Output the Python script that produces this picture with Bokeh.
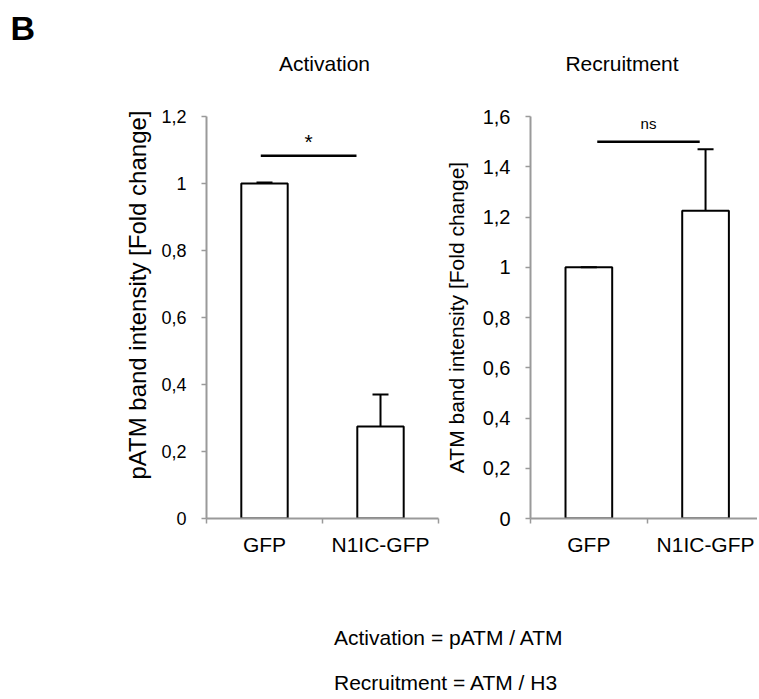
import numpy as np
from bokeh.plotting import figure
from bokeh.models import (ColumnDataSource, Range1d, FixedTicker, CustomJSTickFormatter,
                          Whisker, TeeHead, Label, Title)
from bokeh.layouts import column, row
from bokeh.embed import file_html
from bokeh.resources import INLINE

# ---------------- data ----------------
categories = ["GFP", "N1IC-GFP"]

activation_mean = [1.0, 0.275]
activation_err = [0.003, 0.095]
activation_ticks = [0, 0.2, 0.4, 0.6, 0.8, 1.0, 1.2]

recruitment_mean = [1.0, 1.225]
recruitment_err = [0.0, 0.245]
recruitment_ticks = [0, 0.2, 0.4, 0.6, 0.8, 1.0, 1.2, 1.4, 1.6]

# significance brackets (x in category units, y in value units)
activation_sig_x = [0.468, 1.293]
activation_sig_y = 1.083
activation_sig_text = "*"
recruitment_sig_x = [0.572, 1.45]
recruitment_sig_y = 1.50
recruitment_sig_text = "ns"

FONT = "Liberation Sans"
AXIS_GRAY = "#9a9a9a"
TOTAL_W = 757
HEADER_H = 90
ROW_H = 490

TICK_FMT = """
const v = Math.round(tick * 10) / 10;
if (Math.abs(v - Math.round(v)) < 1e-9) { return v.toFixed(0); }
return v.toFixed(1).replace('.', ',');
"""


def text_panel(width, height):
    """A figure without axes whose frame is the whole canvas, for free text."""
    p = figure(width=width, height=height, x_range=Range1d(0, width),
               y_range=Range1d(height, 0), x_axis_type=None, y_axis_type=None,
               min_border=0, output_backend="svg", toolbar_location=None, tools="")
    p.xgrid.visible = False
    p.ygrid.visible = False
    p.outline_line_color = None
    return p


def add_text(p, x, y, text, size, align="left", style="normal"):
    p.add_layout(Label(x=x, y=y, text=text, text_align=align,
                       text_baseline="alphabetic", text_font=FONT,
                       text_font_style=style, text_font_size=size,
                       text_color="black"))


def bar_panel(border_left, border_right, frame_width, x_end, means, errs, ticks,
              tick_font, sig_x, sig_y, sig_text, sig_size, sig_text_y):
    p = figure(frame_width=frame_width, frame_height=402,
               min_border_left=border_left, min_border_right=border_right,
               min_border_top=116 - HEADER_H, min_border_bottom=ROW_H - 402 - (116 - HEADER_H),
               x_range=Range1d(0, x_end), y_range=Range1d(0, ticks[-1]),
               output_backend="svg", toolbar_location=None, tools="")
    p.xgrid.visible = False
    p.ygrid.visible = False
    p.outline_line_color = None

    xs = [i + 0.5 for i in range(len(categories))]
    src = ColumnDataSource(dict(x=xs, top=means,
                                upper=[m + e for m, e in zip(means, errs)]))
    p.vbar(x="x", top="top", bottom=0, width=0.4, source=src,
           fill_color="white", line_color="black", line_width=2)
    w = Whisker(base="x", lower="top", upper="upper", source=src,
                dimension="height", line_color="black", line_width=2,
                upper_head=TeeHead(size=16, line_color="black", line_width=2),
                lower_head=None, level="overlay")
    p.add_layout(w)

    p.segment(x0=[sig_x[0]], y0=[sig_y], x1=[sig_x[1]], y1=[sig_y],
              line_color="black", line_width=2.5)
    p.add_layout(Label(x=(sig_x[0] + sig_x[1]) / 2, y=sig_text_y, text=sig_text,
                       text_align="center", text_baseline="alphabetic",
                       text_font=FONT, text_font_size=sig_size, text_color="black"))

    # x axis: labels at category centres, ticks at category boundaries
    xa = p.xaxis[0]
    xa.ticker = FixedTicker(ticks=xs, minor_ticks=list(range(len(categories) + 1)))
    xa.major_label_overrides = {x: c for x, c in zip(xs, categories)}
    xa.major_tick_out = 0
    xa.major_tick_in = 0
    xa.major_tick_line_color = None
    xa.minor_tick_out = 5
    xa.minor_tick_in = 0
    xa.minor_tick_line_color = AXIS_GRAY
    xa.minor_tick_line_width = 1.5
    xa.axis_line_color = AXIS_GRAY
    xa.axis_line_width = 2
    xa.major_label_text_font = FONT
    xa.major_label_text_font_size = "21px"
    xa.major_label_text_color = "black"
    xa.major_label_standoff = 9

    ya = p.yaxis[0]
    ya.ticker = FixedTicker(ticks=ticks)
    ya.formatter = CustomJSTickFormatter(code=TICK_FMT)
    ya.major_tick_out = 5
    ya.major_tick_in = 0
    ya.major_tick_line_color = AXIS_GRAY
    ya.major_tick_line_width = 1.5
    ya.minor_tick_line_color = None
    ya.axis_line_color = AXIS_GRAY
    ya.axis_line_width = 2
    ya.major_label_text_font = FONT
    ya.major_label_text_font_size = tick_font
    ya.major_label_text_color = "black"
    ya.major_label_standoff = 15
    return p


# ---------------- header: panel letter and chart titles ----------------
header = text_panel(TOTAL_W, HEADER_H)
add_text(header, 10, 27, "B", "34px", style="bold")
add_text(header, 324, 63, "Activation", "21px", align="center")
add_text(header, 621.5, 63, "Recruitment", "21px", align="center")

# ---------------- left: Activation ----------------
p1 = bar_panel(206, 2, 232, 2.0, activation_mean, activation_err,
               activation_ticks, "18px",
               activation_sig_x, activation_sig_y, activation_sig_text,
               "21px", 1.124)
# y-axis title sits towards the top of the axis in the original
t1 = Title(text="pATM band intensity [Fold change]", align="right", offset=-6,
           text_font=FONT, text_font_size="24px", text_font_style="normal",
           text_color="black")
if "standoff" in Title.properties():
    t1.standoff = 15
p1.add_layout(t1, "left")

# ---------------- right: Recruitment ----------------
right_frame = TOTAL_W - 440 - 90
p2 = bar_panel(90, 0, right_frame, right_frame / 116.7, recruitment_mean,
               recruitment_err, recruitment_ticks, "20px",
               recruitment_sig_x, recruitment_sig_y, recruitment_sig_text,
               "15px", 1.574)
ya2 = p2.yaxis[0]
ya2.axis_label = "ATM band intensity [Fold change]"
ya2.axis_label_text_font = FONT
ya2.axis_label_text_font_size = "21px"
ya2.axis_label_text_font_style = "normal"
ya2.axis_label_text_color = "black"
ya2.axis_label_standoff = 12

# ---------------- bottom notes ----------------
footer = text_panel(TOTAL_W, 117)
add_text(footer, 333.5, 57, "Activation = pATM / ATM", "21px")
add_text(footer, 333.5, 101.5, "Recruitment = ATM / H3", "21px")

layout = column(header, row(p1, p2), footer)
open("out.html", "w").write(file_html(layout, INLINE))
